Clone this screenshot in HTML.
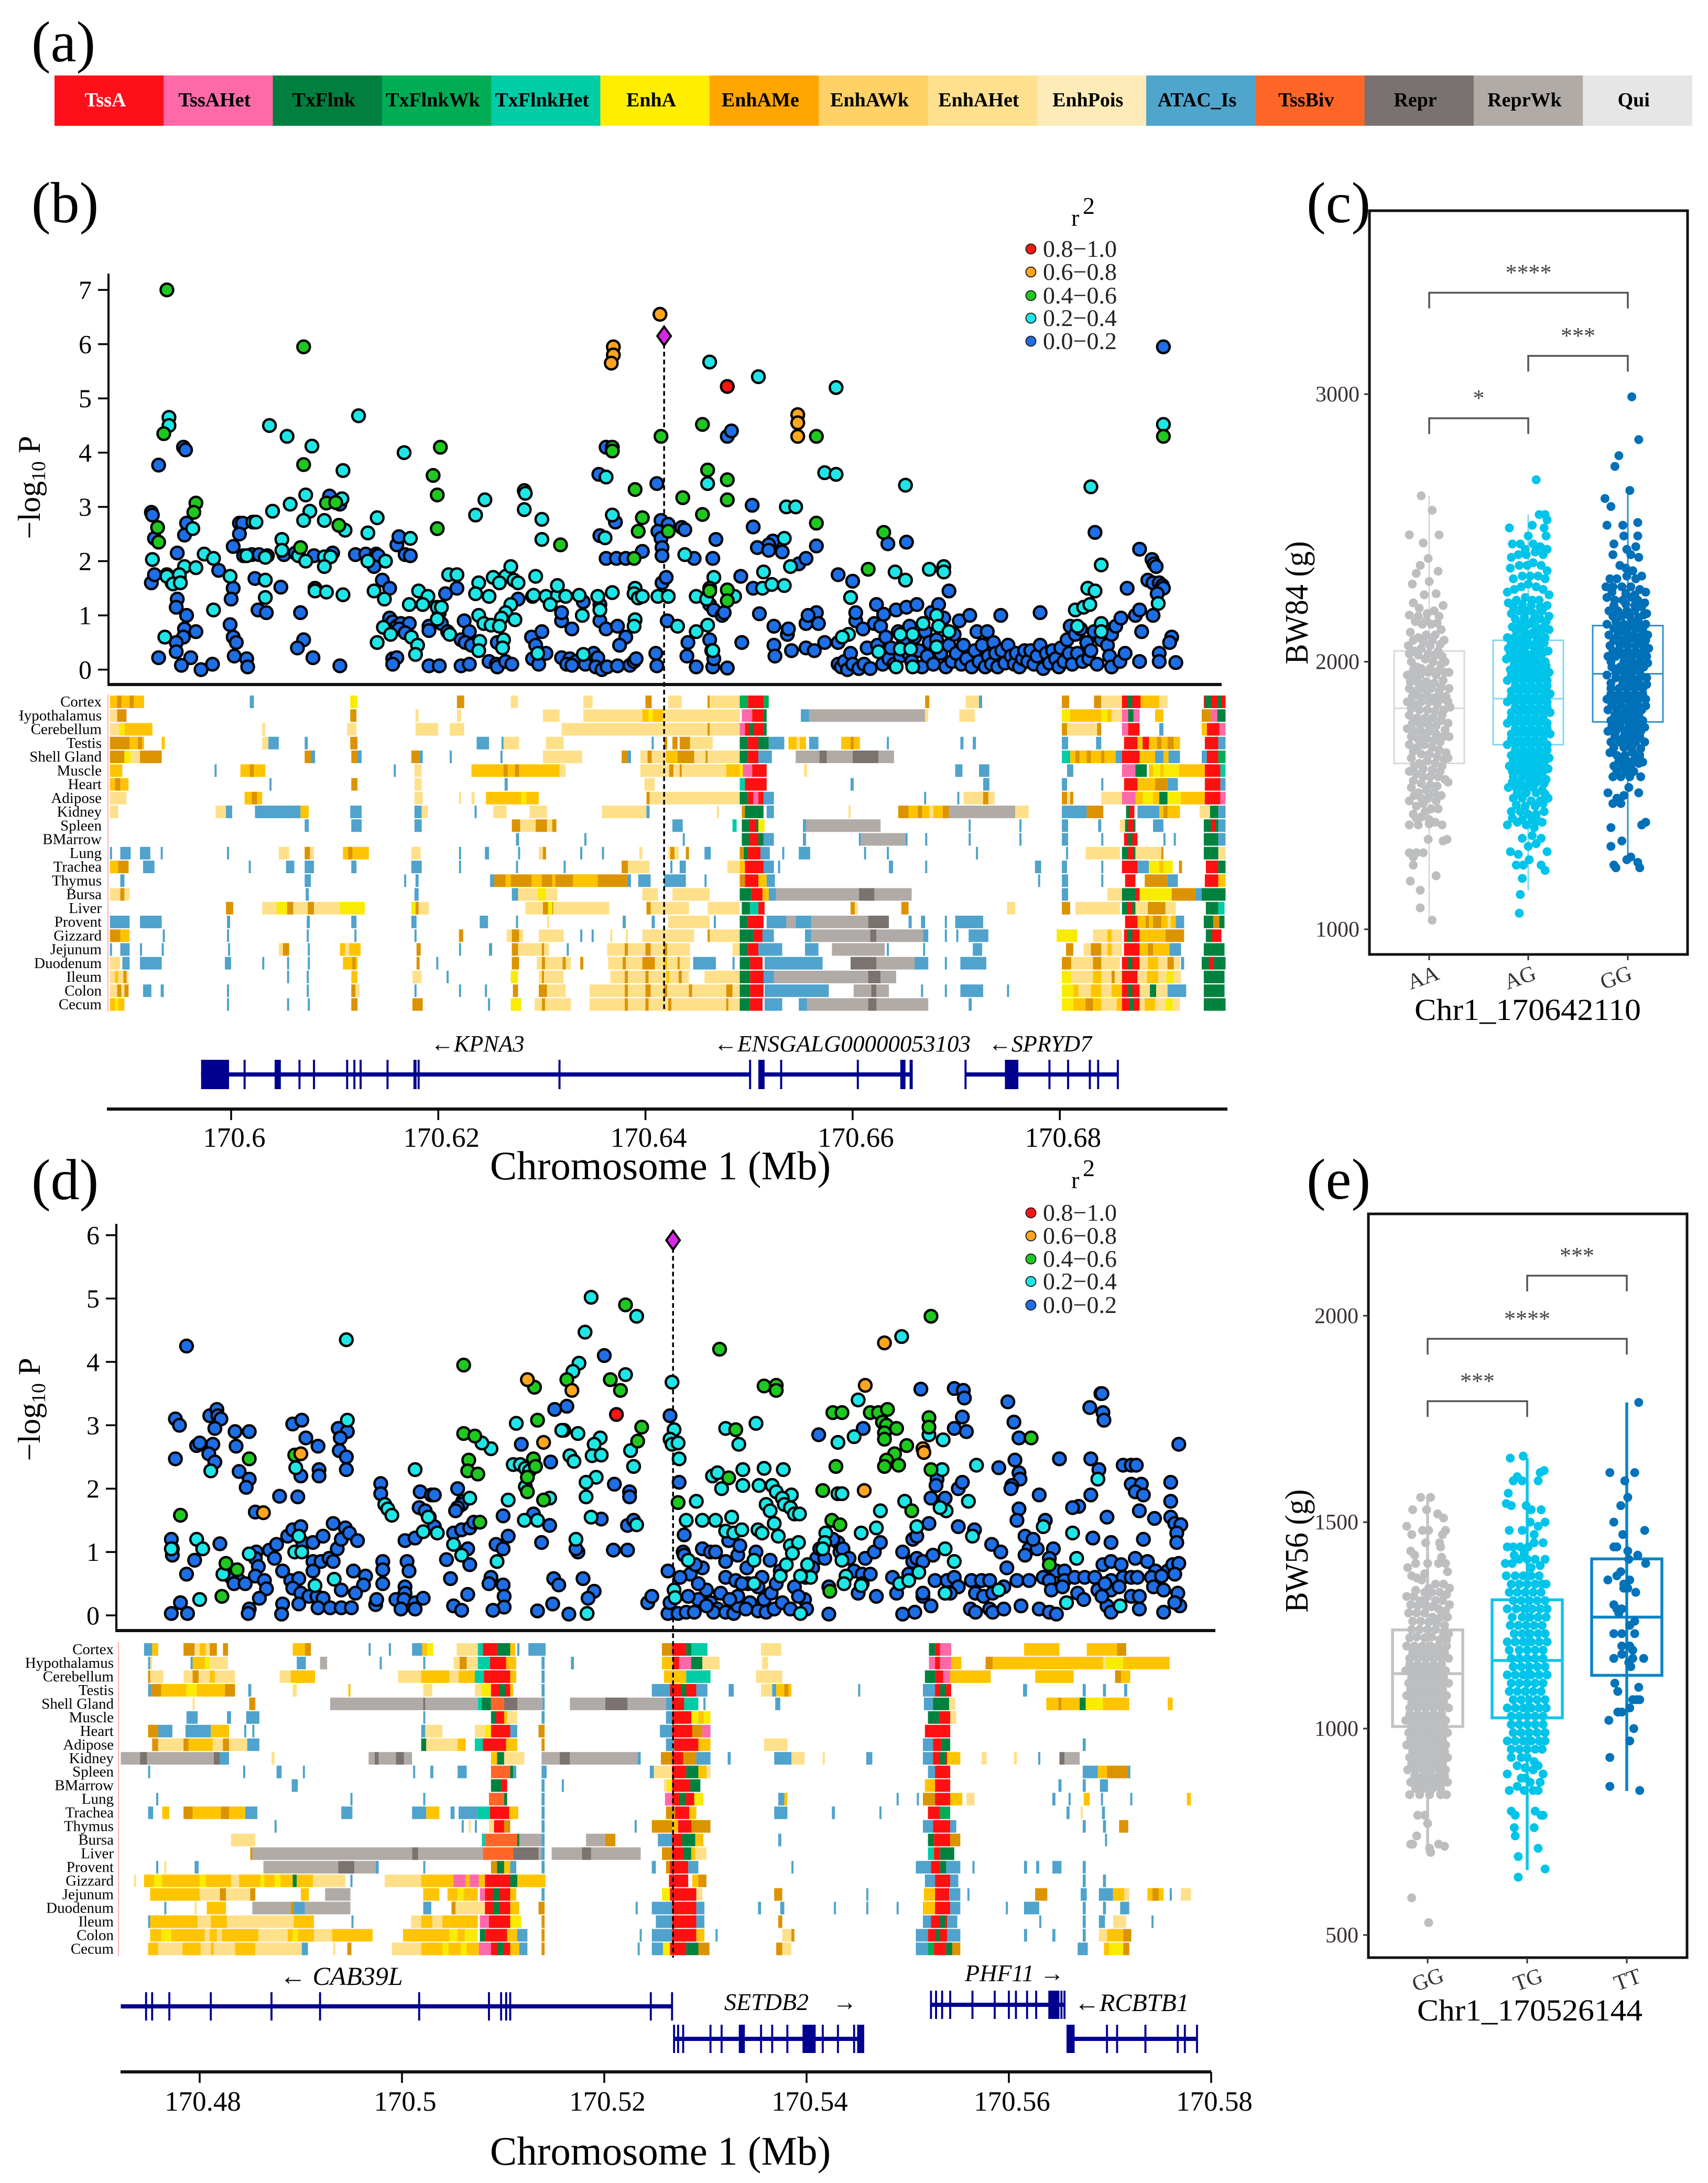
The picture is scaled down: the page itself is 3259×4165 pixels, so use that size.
<!DOCTYPE html>
<html lang="en">
<head>
<meta charset="utf-8">
<title>Chromatin state, LD and genotype figure</title>
<style>
html,body{margin:0;padding:0;background:#fff;}
svg{display:block;font-family:"Liberation Serif",serif;}
</style>
</head>
<body>
<svg id="chart" xmlns="http://www.w3.org/2000/svg" width="3259" height="4165" viewBox="0 0 3259 4165">
<rect width="3259" height="4165" fill="#fff"/>
<text x="60" y="117" font-size="110">(a)</text>
<text x="60" y="424" font-size="110">(b)</text>
<text x="2493" y="424" font-size="110">(c)</text>
<text x="60" y="2288" font-size="110">(d)</text>
<text x="2493" y="2287" font-size="110">(e)</text>

<g transform="translate(76,930) rotate(-90)"><text text-anchor="middle" font-size="60">−log<tspan font-size="38" dy="10">10</tspan><tspan dy="-10"> P</tspan></text></g>
<g transform="translate(76,2689) rotate(-90)"><text text-anchor="middle" font-size="60">−log<tspan font-size="38" dy="10">10</tspan><tspan dy="-10"> P</tspan></text></g>

<text x="1260" y="2250" text-anchor="middle" font-size="77">Chromosome 1 (Mb)</text>
<text x="1260" y="4130" text-anchor="middle" font-size="77">Chromosome 1 (Mb)</text>

<g font-size="46"><text x="2044" y="431">r</text><text x="2066" y="408">2</text></g>
<g font-size="46"><text x="2044" y="2267">r</text><text x="2066" y="2244">2</text></g>

<text x="822" y="2006" font-size="44" font-style="italic">←KPNA3</text>
<text x="1362" y="2006" font-size="44" font-style="italic" textLength="490" lengthAdjust="spacingAndGlyphs">←ENSGALG00000053103</text>
<text x="1886" y="2006" font-size="44" font-style="italic">←SPRYD7</text>
<text x="534" y="3787" font-size="50" font-style="italic">← CAB39L</text>
<text x="1382" y="3835" font-size="46" font-style="italic">SETDB2&#160;&#160;&#160;&#160;→</text>
<text x="1841" y="3780" font-size="46" font-style="italic">PHF11 →</text>
<text x="2050" y="3837" font-size="48" font-style="italic">←RCBTB1</text>

<text x="2915" y="1946" text-anchor="middle" font-size="58" textLength="432" lengthAdjust="spacingAndGlyphs">Chr1_170642110</text>
<text x="2919" y="3855" text-anchor="middle" font-size="58" textLength="430" lengthAdjust="spacingAndGlyphs">Chr1_170526144</text>
<text transform="translate(2495,1150) rotate(-90)" text-anchor="middle" font-size="62" textLength="235" lengthAdjust="spacingAndGlyphs">BW84 (g)</text>
<text transform="translate(2495,2959) rotate(-90)" text-anchor="middle" font-size="62" textLength="235" lengthAdjust="spacingAndGlyphs">BW56 (g)</text>
</svg>

<script>
/* ---------- panel (a) ---------- */
const stateNames=['TssA','TssAHet','TxFlnk','TxFlnkWk','TxFlnkHet','EnhA','EnhAMe','EnhAWk','EnhAHet','EnhPois','ATAC_Is','TssBiv','Repr','ReprWk','Qui'];
const stateFill=['#ff0f1a','#ff69a8','#007f3f','#00ad55','#00cca6','#ffee00','#ffa500','#ffd166','#ffe08f','#ffebb8','#4fa5cc','#ff6628','#7a7270','#b1aba7','#e6e6e6'];

/* ---------- track state codes ---------- */
const L=0,O=1,D=2,Y=3,B=4,R=5,P=6,G=7,W=8,T=9,S=10,K=11,F=12;
const trackFill=['#ffe08a','#ffc400','#dc9300','#f9ec00','#4fa3cc','#ff1010','#ff69a8','#00823f','#00ad55','#00cca6','#b1aba7','#7b7370','#ff6628'];
const tissues=['Cortex','Hypothalamus','Cerebellum','Testis','Shell Gland','Muscle','Heart','Adipose','Kidney','Spleen','BMarrow','Lung','Trachea','Thymus','Bursa','Liver','Provent','Gizzard','Jejunum','Duodenum','Ileum','Colon','Cecum'];

/* ---------- panel (b) tracks: start kb, end kb, state, relative to 170.6 Mb ---------- */
const bCortex=[-11.7,-8.4,O,-11,-10.6,D,-9.8,-9.4,D,1.8,2.2,B,11.5,12.2,Y,21.8,22.5,D,27,27.7,L,34,34.9,L,40,40.6,D,42.2,43.5,L,46,46.2,D,46.2,49.1,L,49.1,49.9,W,49.9,51.4,R,51.4,51.9,W,67,67.4,D,70.9,72.2,L,72.2,72.5,B,80.2,80.9,D,83.3,84,D,84,86,L,86,87.8,R,86.5,87,G,87.8,89.6,O,89.6,90.4,L,93.9,96,R,94,94.6,G,95.2,95.6,G];
const bHypothalamus=[-11.7,-11,L,-11,-10.1,D,11.5,12.1,D,17.8,18.1,L,21.8,22.2,L,30.1,31.7,L,34,39.7,L,39.7,41.7,O,40.3,40.7,Y,41.7,49.1,L,49.3,50.3,P,50.3,51.4,R,51.4,51.7,G,55,55.8,B,55.8,67,S,67,67.3,L,70.3,71.8,L,80.2,85,O,80.2,81,Y,84,84.6,Y,85,86,L,86,87.7,P,86.6,87.1,G,89.2,90,O,93.7,94.6,D,94.6,95.2,P,95.2,96,G];
const bCerebellum=[-11.7,-10.8,L,-10.8,-10.3,Y,-10.3,-7.6,O,3,3.3,L,11.2,12.1,L,17.8,20,L,21.1,22.5,L,31.9,49.1,L,46,46.2,D,49.1,49.6,P,49.6,51.4,R,50,50.4,G,51.4,51.7,G,80.2,80.7,D,80.7,83.6,L,83.6,84,D,86,87.7,P,86.6,87.7,R,89.6,90,B,93.7,94.2,O,94.2,95.4,R,95.4,96,P];
const bTestis=[-11.7,-8.4,O,-11.7,-9.8,D,-9,-8.6,D,-6.7,-6.4,O,3,3.6,L,3.6,4.6,B,7.1,7.4,B,11.5,12.2,D,23.7,24.9,B,26.1,26.3,B,26.3,27.8,L,30.4,32.1,L,40.6,40.8,B,41.8,42.1,D,42.6,43.1,D,43.3,44.3,D,44.3,46.5,L,49.1,49.9,G,49.9,50.9,R,50.9,51.9,G,51.9,53.4,B,53.8,55.5,O,54.6,54.9,L,55.8,56.7,B,58.9,60.7,O,59.8,60.1,D,63.3,63.5,B,70.4,70.7,B,71.6,71.9,B,80.2,80.8,B,83.5,84,B,86.2,87.5,R,87.5,91.6,O,88,88.6,R,89.4,89.8,D,90.4,91,D,94,95.3,R,95.3,96,B];
const bShellGland=[-11.7,-10.3,D,-10.3,-9.7,Y,-9.7,-8.8,L,-8.8,-6.7,D,7.1,8.1,D,7.7,8.1,B,11.6,12.2,D,12.2,12.6,B,17.4,18.2,D,18.2,18.5,B,21.1,21.3,B,26,26.2,B,30.1,33.9,L,37.7,38.3,D,38.3,38.6,B,39.5,42,L,40.2,40.6,D,42,43.1,O,43.1,44.7,D,44.7,45.8,L,45.8,46,D,46,49.1,L,49.1,49.9,G,49.9,50.9,R,50.9,52.2,B,54.5,57.1,S,56.8,57.5,K,57.5,60,S,60,62.5,K,62.5,64,S,80.2,81,T,81,85.4,O,81.5,81.9,D,82.6,83,D,84,84.3,D,85.4,86,B,86,87.7,R,87.7,89.2,O,89.2,91.6,B,90,90.5,O,93.7,95.3,B,94.2,95.3,R,95.3,96,W];
const bMuscle=[-11.7,-10.5,O,-1.6,-1.4,B,.9,3.3,O,1.8,2.2,D,15.7,15.9,B,17.7,18.4,L,23.2,31.7,O,26.3,26.7,D,27.4,27.8,D,31.7,32.3,L,39.5,42,L,42,43.5,L,42.3,42.7,D,43.3,43.6,D,43.5,47.8,L,47.8,49.1,O,49.1,49.4,Y,49.4,50.3,P,50.3,51.7,R,55.3,55.6,L,69.9,70.6,B,72.2,73.2,B,80.7,81.3,B,86,87.3,P,87.3,88.4,G,88.6,94,O,90,91.5,Y,89,89.7,Y,94,95.5,R,95.5,96,T];
const bHeart=[-11.7,-9.9,O,-11.2,-10.7,D,3.7,3.9,B,11.6,12.2,D,17.7,18.4,L,26.4,26.7,B,39.9,40.9,L,49.1,49.6,T,49.6,51.7,R,59.8,60.1,B,72.6,73.2,B,80.2,80.7,B,84,84.2,B,86.2,87.5,R,87.5,89.2,O,89.2,90.4,D,90.4,91.4,B,94,95.5,R,95.5,96,B];
const bAdipose=[-11.7,-10.1,L,1.3,3,O,2,2.5,D,17.7,18.5,L,22,22.2,L,23.2,23.5,L,24.6,29.7,O,28,28.5,Y,40.1,40.4,D,40.4,49.1,L,49.1,49.9,G,49.9,51.4,R,50.4,50.9,P,51.4,52.4,B,66.9,67.1,B,70.1,70.3,B,70.7,72.6,L,72.6,73.7,D,73.1,73.7,L,80.2,81.3,D,80.7,81,L,84,86,L,86,87.3,P,87.3,89.6,O,88,89,Y,89.6,90.4,G,90.4,91.7,Y,91.7,94,O,94,95.5,R,95.5,96,P];
const bKidney=[-11.7,-10.9,L,-1.5,-.5,L,-.5,.1,B,2.3,6.7,B,6.7,7.5,O,11.5,12.6,B,17.7,18.4,B,18.4,19,L,23.5,23.7,B,25.3,26.6,L,28.8,30.5,L,35.8,40.1,L,40.1,40.4,B,46.9,47.1,L,49.3,49.6,D,49.6,51.4,G,51.7,52.4,B,59.6,59.8,L,64.4,65.4,D,65.4,68.7,O,66.3,66.7,D,67.4,67.8,L,68.7,69.3,D,69.3,75.7,S,75.7,77,L,80.2,82.6,B,82.6,84.2,D,86.4,87.2,R,86.4,86.7,G,87.5,89.6,B,89.6,91.6,O,90,90.4,D,93.5,94.5,L,94.5,95.3,G,95.3,96,B];
const bSpleen=[7.1,7.5,B,11.6,12.6,B,17.7,18.4,B,27.1,27.9,D,27.9,29.4,L,29.4,30.5,D,30.5,31.4,L,31,31.4,D,42.6,43.6,B,48.4,48.8,T,49.3,50.9,G,50,50.7,R,50.9,51.5,Y,55.2,55.5,B,55.5,62.7,S,71.2,71.4,B,76.1,76.3,B,80.2,80.8,B,83.7,84,B,85.8,86.3,L,86.3,87.3,G,86.6,87.1,R,89,90,B,93.9,95.3,G,94.6,95,R,95.3,96,B];
const bBMarrow=[27.5,27.8,B,34.1,34.3,B,43.6,43.8,B,49.3,51.4,G,50,50.9,R,51.4,52.4,B,55.2,55.5,B,60.6,60.8,B,60.8,65.1,S,65.1,65.3,B,67,67.2,B,71.2,71.4,B,76.1,76.3,B,80.2,80.8,B,84,84.2,B,86.2,87.5,R,86.6,87,G,90,90.2,B,91,91.2,B,93.9,95.3,G,95.3,96,B];
const bLung=[-11.7,-11.5,B,-10.7,-9.7,B,-8.8,-7.8,B,-6.8,-6.6,B,-.4,-.2,B,4.6,5.6,L,7.1,8,D,7.6,8,L,10.8,13.3,O,11.3,11.7,D,17.4,18.3,L,22,22.2,B,24.5,24.9,B,27.7,27.9,B,29.7,30.4,L,30.1,30.4,D,33.7,33.9,B,35.8,36,B,39.4,39.7,L,42.2,43.2,L,42.4,42.8,D,43.9,44.2,D,45.7,46.3,B,49.1,49.9,D,49.5,49.9,G,49.9,51.1,R,51.1,52,B,53.2,53.4,B,54.8,55.9,B,61.1,61.3,B,63.3,63.5,B,71.9,72.1,B,80.6,80.8,B,82.5,85.8,L,86,87.3,G,86.6,87.1,R,87.3,89.8,L,89.8,90,D,93.9,95.3,G,95.3,96,L];
const bTrachea=[-11.7,-9.9,O,-10.9,-9.9,D,-8.5,-7.4,B,1.7,1.9,B,5.3,6.1,B,7.1,8,B,11.6,12.1,B,17.4,18.4,B,22,22.2,B,27.5,27.7,B,32.1,32.3,B,37.7,38.3,D,38.3,40.4,L,42.4,42.6,B,43.3,43.9,B,47.9,49.1,L,49.1,49.6,O,49.6,51.4,R,51.4,52.4,B,52.8,53,B,63.5,63.9,B,67,67.2,B,77.6,78.2,B,80.2,80.7,B,84,84.2,B,86,87.5,R,87.5,88.6,B,88.6,90.9,Y,89.6,90,O,91.5,91.8,D,94.1,95.3,R,95.3,96,G];
const bThymus=[-10.7,-10.3,B,7.1,7.7,B,16.7,16.9,B,17.8,18.1,B,25,25.4,B,25.4,38.3,D,26.5,27,O,29,30,O,33,35.4,O,31,31.3,O,38.3,38.6,B,39.3,40.5,B,41.8,43.9,B,45.7,45.9,B,49.1,49.6,D,49.6,50.9,R,50.9,51.7,O,51.7,52.5,B,77.9,78.1,B,80.2,80.8,B,84,84.2,B,86.3,87.3,R,88.2,90.4,D,90.4,91.4,B,94,95.3,R,95.3,96,O];
const bBursa=[-11.7,-10.7,L,-10.7,-10.3,D,-10.3,-9.8,L,7.2,7.5,B,17.7,18.1,B,27.1,27.7,B,27.7,29.6,L,29.6,30.4,Y,30.4,31.5,L,39.7,41.2,L,42.6,46.2,L,49.1,50.2,G,50.2,51.3,R,51.3,51.9,O,51.9,52.6,B,52.6,60.6,S,60.6,62.1,K,62.1,65.7,S,80.2,80.8,B,84.6,86,L,86,87.3,G,87.3,87.7,R,87.7,90.8,Y,90.8,93.1,D,93.1,93.7,B,93.7,96,G];
const bLiver=[-.5,.2,D,3,4.4,L,4.4,5.4,Y,5.4,6,D,6,7.4,L,7.4,8,D,8,10.5,L,10.5,12.9,Y,17.4,18.1,Y,17.8,18.1,D,18.1,19.1,L,28.4,30.1,L,30.1,31.1,D,30.6,31,Y,31.1,36.5,L,40.1,40.5,D,40.5,44.2,L,46,49.1,L,49.3,50.1,G,50.1,50.9,T,50.9,51.5,R,59.8,60.5,L,59.8,60.2,D,64.7,65.4,D,74.9,75.7,L,80.2,81,D,81.5,85.8,L,86,87.3,G,86.5,87,R,87.3,89.2,L,88.5,89.2,D,89.2,90.2,D,90.2,91.2,L,94.1,95.3,G,95.3,95.9,T];
const bProvent=[-11.7,-10.9,B,-10.9,-9.8,B,-8.8,-6.7,B,-.4,-.1,B,7.3,7.6,B,11.6,12.1,B,17.4,17.9,B,24,24.8,B,27.5,27.7,B,30.5,30.6,L,37.8,38.1,B,40.6,40.9,B,42.2,46.2,L,46.6,46.8,B,49.1,49.9,G,49.9,51.4,R,51.7,53.6,B,53.6,54.5,S,54.5,56,B,56,61.5,S,61.5,63.5,K,65.4,65.7,B,66.6,67,B,68.9,69.1,B,69.9,72.6,B,86.3,87.5,R,87.5,91.2,O,88.3,88.6,D,89,89.8,D,90.4,90.7,L,91.2,92,B,93.9,95.9,G,94.8,95.4,D];
const bGizzard=[-11.7,-10.7,D,-10.7,-9.8,O,-6.6,-6.4,B,-.4,-.2,B,7.3,7.5,B,11.9,12.1,B,17.7,17.9,B,22,22.4,D,26.6,28.2,L,27.1,27.8,D,29.7,32.1,L,33.7,33.9,B,34.8,35,B,36.6,36.8,L,38.1,38.3,L,39.7,44.7,L,46,49.1,L,46,46.2,D,49.1,50.4,G,50.4,51.3,R,51.3,52.4,B,55.4,56,B,56,61.7,S,61.7,62.3,K,62.3,66.8,S,66.8,67.3,B,68.9,69.1,B,70,70.2,B,71.2,73.1,B,79.7,81.7,Y,83.2,84,L,84,86,L,84.6,85,O,86.2,87.7,R,86.5,87,G,87.7,90.2,O,90.2,92,D,94.1,95.6,R,94.1,94.7,G];
const bJejunum=[-11.7,-11.5,B,-10.7,-9.8,B,-8.8,-8.6,B,-6.7,-6.5,B,-.3,-.1,B,4.6,5.6,L,5,5.6,D,7.4,7.6,B,10.5,12.5,O,11,11.4,L,17.9,18.3,D,22,22.2,B,24.9,25.2,B,27.1,27.7,D,27.7,30.7,L,30,30.2,D,32.4,32.6,B,36.3,44.3,L,38,38.3,D,40,40.5,D,41.8,42.1,D,48.4,49.1,L,49.1,49.9,G,49.9,50.9,R,50.9,53.2,B,55.4,56.7,B,58,63.1,S,63.3,63.5,B,66.8,67,B,71.6,72.5,B,80.6,81.3,D,82.3,86,L,83,84,D,84.6,85,O,86.2,87.7,R,87.7,90.6,O,88.5,89,D,90.6,91.7,B,93.9,95.9,G];
const bDuodenum=[-11.7,-10.7,L,-10.5,-9.8,B,-8.8,-6.7,B,-.6,0,B,3,3.2,B,5.4,5.6,B,7.4,7.6,B,10.8,12.2,O,11.7,12,D,17.9,18.2,D,19.8,20,B,27.1,27.8,D,29.5,32.8,L,30,30.3,D,32,32.3,D,33.7,34,D,36.4,44.3,L,37.8,38.1,D,39.7,40.9,D,41.8,42.1,O,43.1,43.3,D,44.6,46.8,B,48.4,48.6,B,49.1,50.1,G,50.1,51.3,R,51.5,57.1,B,59.8,62.3,K,62.3,66,S,66,67.3,B,68.9,69.1,B,70.4,72.9,B,80.2,81.1,D,81.1,85.8,L,83.2,84,D,86,87.7,R,86.6,87,G,87.7,91.6,L,88.5,89.5,O,90.4,91,D,91.7,92,B,93.7,96,G,94.4,94.8,R];
const bIleum=[-11.7,-9.9,L,-11.2,-10.9,O,-10.4,-10.1,D,5.4,5.6,B,7.3,7.5,B,11.6,12.2,O,17.5,18.4,L,20.8,21,B,27,27.7,Y,29.7,32.1,L,30,30.2,D,36.6,44.2,L,38,38.3,D,40,40.3,D,42,42.3,O,43.2,43.5,D,45.7,49.1,L,49.1,50.1,G,50.1,51.4,R,51.4,52.4,B,52.4,61.5,S,61.5,62.7,K,62.7,64.2,S,80.2,81.1,Y,81.1,86,L,83.2,84,O,85,85.3,D,86,87.5,R,87.5,91.7,L,88.4,89.5,O,90.3,91,Y,93.9,95.9,G];
const bColon=[-11.7,-9.9,L,-11,-10.6,D,-10.3,-9.9,D,-8.5,-7.7,B,-6.8,-6.5,B,-.4,-.2,B,7.3,7.5,B,11.6,12.4,D,12,12.4,L,17.7,17.9,B,22,22.2,B,24.5,24.7,B,27.2,27.7,D,29.7,30.5,D,30.5,32.3,L,34.6,49.1,L,38,38.3,D,40,40.5,D,41.8,42.1,D,44.2,44.5,D,47.8,48.4,D,49.1,50.1,G,50.1,51.4,R,51.5,57.7,B,60.1,61.8,S,61.8,62.3,K,62.3,63.5,S,66.6,66.8,B,68.9,69.1,B,70.4,72.6,B,74.9,75.1,B,80.2,81.3,Y,81.3,86,O,81.8,83,L,84,85,L,86,87.7,R,86.6,87,G,87.7,90.4,L,88.7,89.3,G,90.4,92.2,B,93.9,95.9,G];
const bCecum=[-11.7,-10.3,O,-11.2,-10.9,Y,-.4,-.2,B,5.4,5.6,B,7.4,7.6,B,11.6,12.2,D,17.5,18.5,D,24.8,25,B,27,28,Y,29.3,32.8,L,30,30.3,D,34.6,49.1,L,38,38.3,D,40,40.3,D,42.2,42.5,D,47.8,48,D,49.1,50.1,G,50.1,51.3,R,51.5,53.2,B,54.8,55.6,B,55.6,67.3,S,61.5,62.3,K,71.2,71.5,B,80.2,81.3,Y,81.3,86,O,82.5,83.2,D,84,85.5,L,86,87.7,R,86.7,87.1,G,87.7,91.6,L,88.2,89.2,O,90.2,90.9,Y,93.9,96,G];
const tracksB=[bCortex,bHypothalamus,bCerebellum,bTestis,bShellGland,bMuscle,bHeart,bAdipose,bKidney,bSpleen,bBMarrow,bLung,bTrachea,bThymus,bBursa,bLiver,bProvent,bGizzard,bJejunum,bDuodenum,bIleum,bColon,bCecum];

/* ---------- panel (d) tracks: relative to 170.5 Mb ---------- */
const dCortex=[-25.5,-24.7,B,-24.7,-24.1,O,-21.6,-20.5,D,-20.5,-19,L,-20,-19.4,O,-19,-18.3,D,-17.7,-17.2,D,-10.8,-9.6,O,-9.6,-9,D,-3.3,-3.1,B,-1.3,-1.1,B,1,2,B,2,2.5,O,2.5,3.1,Y,5.4,7.5,L,7.5,8,T,8,9.4,R,9.4,10.7,G,10.7,11.2,O,11.4,11.6,B,12.5,14.2,B,25.7,26.7,D,26.7,28.1,R,28.1,28.6,G,28.6,30.2,T,35.5,37.5,L,52.1,52.7,G,52.7,53.2,R,53.2,54.3,P,61.5,65,O,67.7,70.7,O,70.7,71.6,D];
const dHypothalamus=[-25.1,-24.9,B,-24.9,-24.7,L,-20.9,-20.7,B,-20.7,-19.5,O,-19.5,-19,Y,-19,-17.2,L,-10.4,-9.5,B,-8.1,-7.4,S,-2.2,-2,B,2.1,2.3,B,5.1,5.7,L,5.7,6.4,D,6.4,7.5,L,7.5,8.7,T,8.7,10.3,R,10.3,11.3,O,13.8,14.1,B,16.7,17,B,25.7,26.8,O,26.8,27.4,R,27.4,28.6,P,28.6,29.7,G,29.7,31.4,L,35.6,36.2,L,52.1,52.7,P,52.7,53.2,R,53.2,54.3,P,54.3,55.3,O,57.7,58.4,D,58.4,75.9,O,69.3,71.3,Y,69.3,69.6,L];
const dCerebellum=[-25.1,-24.9,D,-24.9,-23.6,L,-21.6,-20.7,L,-20.7,-20.1,D,-20.1,-19,L,-19,-18.5,O,-18.5,-16.5,L,-12.1,-11,L,-11,-8.6,O,-.4,1.9,L,1.9,4.7,O,4.7,5.6,L,5.6,7.2,O,7.2,8.1,T,8.1,10.7,R,10.7,11.3,O,13.8,14.1,B,25.9,28.1,O,28.1,30.5,T,35,37.6,L,51.7,52.7,G,52.7,53.5,R,53.5,54.2,P,54.2,58.2,O,62.6,66.4,O,70.5,71.1,D,71.1,72,O];
const dTestis=[-25.1,-24.8,B,-24.8,-23.8,D,-23.8,-21.3,O,-21.3,-20.3,Y,-20.3,-17.5,O,-17.5,-16.5,D,-15.2,-14.9,B,-10.8,-10.4,L,-5.3,-5.1,O,2.1,3,L,7.2,7.9,L,7.9,8.8,Y,8.8,10.7,R,9.6,10.2,G,10.7,11,O,13.8,14.1,B,24.7,26.5,B,26.5,29.1,R,27.6,28.1,G,29.1,30.2,B,32.3,32.8,B,35.5,36.6,L,36.6,37,B,37,38.5,O,37.8,38.2,D,45.1,45.3,B,51.5,52.7,B,52.7,54.3,R,53.2,53.8,G,61.4,61.8,B,67.3,67.6,B,69.3,69.6,B,71.4,71.7,B];
const dShellGland=[-20.7,-20.5,L,-15.1,-14.5,D,-7.1,2.1,S,2.1,2.3,K,2.3,7.5,S,7.5,7.9,T,7.9,8.8,G,8.8,10.1,F,10.1,11.4,K,11.4,13.9,S,13.9,14.1,B,16.6,20.1,S,20.1,22.3,K,22.3,26.1,S,26.1,26.7,B,26.7,27.9,R,27.9,29.3,T,29.8,30,B,36.9,37.4,B,51.6,52.5,B,52.5,54.1,G,54.1,54.7,L,63.7,64.9,O,64.9,65.2,D,65.2,67,O,67,67.6,G,67.6,69.3,Y,69.3,71.9,O,75.7,76.2,O];
const dMuscle=[-21.3,-20.2,B,-17.3,-16.9,B,-15.4,-14.1,B,2.1,2.3,B,8.8,9.3,G,9.3,10.1,R,10.1,10.4,O,10.4,11.4,L,13.8,14.1,B,26.1,26.7,B,26.7,28.6,R,28.6,30.5,Y,29.3,29.8,O,52,53.1,G,53.1,54.2,R,54.2,54.8,L];
const dHeart=[-25.1,-24.1,D,-24.1,-23.7,B,-23.7,-22.7,B,-21.4,-18.9,B,-18.9,-17.1,O,-15.6,-15.4,B,-14.8,-14.6,B,1.9,2.3,B,2.3,4,L,7.2,8.2,L,8.2,8.8,Y,8.8,10.7,R,10.7,11.4,B,13.5,14.1,D,25.5,26.7,B,26.7,28.7,R,28.7,29.7,D,29.7,30.5,P,51.7,54.2,R];
const dAdipose=[-24.7,-24.1,D,-24.1,-21.6,L,-21.6,-21.1,D,-21.1,-18.7,O,-18.7,-17.1,L,-17.7,-17.1,D,-17.1,-15.3,L,-15.3,-14.1,B,1.9,2.4,G,2.4,5.5,L,5.5,6.3,O,7.2,8,T,8,10.3,R,10.3,11.4,O,13.8,14.1,D,26.1,26.9,B,26.9,29.3,R,29.3,30.5,O,35.8,38.1,L,51.5,52.5,B,52.5,53.3,R,53.3,54.2,G,67.3,67.6,B];
const dKidney=[-27.8,-25.9,S,-25.9,-25.2,K,-25.2,-18.6,S,-18.6,-18,K,-18,-17.1,B,-12.9,-12.6,L,-3.3,-2.7,S,-2.7,-2.3,K,-2.3,-.6,S,-.6,.2,K,.2,1,S,8.8,9.4,O,9.4,10.1,G,10.1,12.1,L,13.8,15.6,S,15.6,16.6,K,16.6,23.3,S,23.3,23.6,B,25.6,26.7,D,26.7,27.8,R,27.8,29.1,D,29.1,30.5,B,32.2,32.5,B,36.8,38.5,B,38.5,39.8,L,41.6,41.8,L,45.9,46.5,B,51.5,52.5,B,52.5,53.9,R,53.2,53.8,G,53.9,55.2,O,57.3,57.8,L,60.5,60.8,L,62.9,63.1,B,65,65.5,K,65.5,67,S];
const dSpleen=[-25.1,-24.9,B,-15.7,-15.5,B,-12.4,-11.9,B,-9.8,-9.6,B,1.1,1.3,B,2.8,3.1,B,5.5,6.4,B,8.8,10.7,F,10.7,11,G,11,11.3,B,13.8,14.3,B,24.5,24.9,B,24.9,26.7,L,26.7,28.1,R,28.1,30.1,G,29.3,30.1,O,30.1,30.5,L,52,52.7,B,52.7,54.2,R,67.3,68.8,B,68.8,69.7,O,69.7,71.8,D,71.8,72,B];
const dBMarrow=[-10.9,-10.3,B,8.8,9.8,G,9.8,10.4,R,13.8,14.1,B,15.8,16,B,25.9,26.2,L,26.2,26.7,Y,26.7,28.5,R,28.5,29.5,G,51.7,52.7,O,52.7,54.2,R,64.9,65.2,B,67.3,67.6,B,69,69.8,B];
const dLung=[-24.3,-24.1,B,-5.1,-4.9,B,2.1,2.3,B,8.6,10.1,F,10.1,10.4,G,13.8,14.1,B,26,26.7,P,26.7,28.9,R,27.4,28,G,28.9,29.8,Y,37.2,37.8,B,37.8,38.1,O,48.9,49.1,B,50.9,51.1,B,51.5,52.7,D,52.7,54.2,R,54.2,55.4,O,55.8,56.6,L,64.3,64.6,B,65.9,66.1,B,67.4,68,O,69.1,69.3,B,72,72.2,B,77.6,78,O];
const dTrachea=[-25.1,-24.6,B,-23.7,-23,O,-21.6,-20.7,D,-20.7,-17.9,O,-17.9,-17.1,D,-17.1,-15.5,O,-15.5,-14.3,B,-6,-4.9,B,1,2.4,B,2.4,3.7,O,4.8,5.2,B,5.6,7.5,B,7.5,8.7,T,8.7,10.6,R,10.6,11.5,O,13.8,14.1,B,26.1,27,D,27,28.4,R,28.4,29.1,O,36.8,38.1,B,42.5,42.8,B,47.2,47.4,B,52,53.2,R,53.2,54.2,W,65.7,66,B,67.1,67.3,L,69.2,69.5,B];
const dThymus=[-12.6,-12.4,B,5.9,6.1,B,6.6,6.8,L,7.2,7.4,B,8.6,9.1,L,9.1,10.1,R,10.1,10.7,D,13.8,14.1,B,23,23.2,B,24.7,26.7,D,26.7,27.3,O,27.3,28.6,R,28.6,30.5,D,51.5,52.5,B,52.5,54.2,R,54.2,54.8,B,67.3,67.6,B,69.3,69.6,B,70.9,71.8,D];
const dBursa=[-16.9,-14.5,L,7.9,8.2,T,8.2,11.4,F,11.4,11.6,G,11.6,13.8,S,13.8,14.1,B,18.2,20.1,S,20.1,21.1,D,25.3,26.7,B,26.7,27.7,R,27.7,29,G,29,29.8,O,37.2,37.5,B,52,52.6,G,52.6,54.2,R,54.2,55.2,D,69.5,69.7,B];
const dLiver=[-15,-14.7,D,-14.8,1,S,1,1.6,K,1.6,8,S,8,11,F,11,13.5,K,13.5,13.8,S,13.8,14.1,B,14.8,17.8,S,17.8,18.7,K,18.7,23.6,S,25.7,26.7,D,26.7,27.8,R,27.8,28.6,G,28.6,29,O,29,30.1,L,52,52.6,T,52.6,53.2,R,53.2,54.6,G];
const dProvent=[-24.3,-24.1,B,-23.5,-23.3,L,-20.5,-20.1,B,-13.7,-6.3,S,-6.3,-4.7,K,-4.7,-2.6,S,-2.6,-2.3,B,2.1,2.3,B,8.8,9.4,D,9.4,10.1,G,10.1,10.7,O,10.7,11.3,B,13.8,14.1,B,24.7,25.1,B,26.1,26.5,D,26.5,28.3,R,28.3,29.3,B,38.5,38.7,B,50.8,52.3,B,52.3,53.2,R,53.2,53.8,G,53.8,55.2,B,56.4,56.6,B,61.5,61.8,B,62.7,63,B,64.3,65.2,B,67.3,67.6,B];
const dGizzard=[-26.5,-26.3,L,-25.5,-13.6,O,-24.5,-23.7,Y,-20,-19.4,Y,-16.9,-16.1,L,-14,-13.4,Y,-13.6,-10.8,O,-12.6,-12,Y,-10.8,-10.4,G,-10.4,-8.8,O,-8.8,-5.6,L,-5.1,-4.9,B,-1.7,1.9,L,1.9,5.1,O,5.1,6.3,P,6.3,6.7,O,6.7,7.6,P,7.6,8.2,O,8.2,10.7,R,10.7,11.4,G,11.4,14.2,O,26.4,28.3,R,28.7,29.3,O,29.3,30.1,D,51.7,52.7,B,52.7,54.2,R,54.2,55,B,67.3,67.6,B,69.3,69.6,B];
const dJejunum=[-24.9,-20,O,-20,-18,L,-18,-17.4,D,-17.4,-15,L,-15,-14.5,D,-10,-9.2,O,-7.6,-5.1,S,2.1,3.7,O,4.5,7.5,O,5.5,6.1,Y,7.7,8.2,P,8.2,10.7,R,9,9.6,G,10.7,11.3,O,13.8,14.1,B,25.7,26.5,Y,26.5,29.1,R,29.1,29.7,L,36.8,37.6,D,45.9,46.1,B,51.6,52.7,O,52.7,54.1,R,54.1,55.2,B,55.9,56.1,B,62.6,63.8,D,67.1,67.7,B,68.9,70.3,B,70.3,71.9,O,71.4,71.9,L,73.7,75.3,O,74.2,74.8,D,75.9,76.1,B,77,78,L];
const dDuodenum=[-23.5,-23.3,B,-20.5,-20.3,L,-19.3,-17.4,O,-14.8,-11,S,-11,-10.7,D,-10.7,-9.6,B,-9.6,-5.1,S,2.1,2.9,B,4.9,5.3,D,5.3,8.2,L,8.2,10.7,R,9,9.6,G,10.7,11.6,O,13.5,14.1,D,23.1,23.3,B,24.7,26.7,B,26.7,29.1,R,29.1,29.9,B,35.2,35.5,B,37.4,37.8,B,42.7,42.9,B,45.9,46.1,B,48.9,49.1,B,51.5,52.7,O,52.7,54.2,R,54.2,55.2,B,59.7,59.9,B,61.5,63,B,67.3,67.6,B,69.3,69.6,B,71,71.9,B];
const dIleum=[-25.1,-24.9,B,-24.9,-20.2,O,-20.2,-18.9,L,-18.9,-17.3,O,-17.3,-10.7,L,-10.7,-8.7,O,-5,-4.8,B,.9,1.9,L,1.9,4.7,O,3,4,L,4.7,7.5,O,7.7,8.6,P,8.6,10.7,R,10.7,11.8,Y,13.8,14.1,D,25.1,26.7,B,26.7,29.1,R,29.1,29.9,B,37.2,37.6,D,51.5,52.3,B,52.3,53.9,R,53.2,53.7,G,53.9,54.9,B,63,63.2,B,67.3,67.6,B,68.9,69.5,B,70.3,71.6,L,74.1,74.3,B];
const dColon=[-24.9,-14.2,O,-23.8,-22.8,Y,-19.5,-19,L,-18.3,-17.8,L,-14.2,-11.3,L,-11.3,-8.7,O,-10.8,-10.3,Y,-8.7,-6.9,L,-6.9,-2.9,O,.1,4.7,O,4.7,7.5,Y,5.5,6.2,O,7.7,8.2,G,8.2,10.4,R,10.4,11.4,O,11.4,12.4,B,13.8,14.1,D,23.5,23.7,B,24.7,26.7,B,26.7,29.1,R,29.1,29.9,O,31,31.2,B,37.6,38.5,L,38.5,38.8,D,50.8,52,B,52,53.9,R,52.8,53.2,G,53.9,55.2,B,61.5,61.8,B,64.3,64.6,B,67.3,67.6,B,68.9,69.7,L,69.7,71.3,O,71.3,72.1,D];
const dCecum=[-25.1,-24.1,O,-24.1,-21.7,L,-21.7,-19.9,O,-19.9,-18.9,L,-18.9,-18.6,O,-18.6,-16.5,L,-16.5,-14.5,O,-14.5,-9.9,L,-9.9,-9.3,B,-6.8,-6.6,L,-5.4,-5,D,-1,1.9,L,1.9,7.6,O,4,4.6,Y,5.8,6.4,Y,7.6,8.8,P,8.8,10.7,R,9.4,10,G,10.7,11.6,O,11.6,12.4,B,13.8,14.1,D,23.3,23.5,B,24.7,25.8,B,25.8,26.5,Y,26.5,28.1,R,28.1,29.3,G,29.3,30.4,D,37,37.6,D,37.6,38.5,L,50.8,52,B,52,52.6,W,52.6,53.8,R,53.8,54.4,G,54.4,55.2,D,66.8,67.8,B,69.4,69.9,O,69.9,71.3,Y,71.3,71.9,D];
const tracksD=[dCortex,dHypothalamus,dCerebellum,dTestis,dShellGland,dMuscle,dHeart,dAdipose,dKidney,dSpleen,dBMarrow,dLung,dTrachea,dThymus,dBursa,dLiver,dProvent,dGizzard,dJejunum,dDuodenum,dIleum,dColon,dCecum];

/* ---------- panel (b) LD points: kb from 170.6 Mb, -log10 P ---------- */
const bR2Low=[-7.7,1.6,-7.4,1.75,-6.2,1.75,-5.7,1.6,-5,1.7,-5.2,1.3,-5.3,1.15,-4.3,1,-4.5,.75,-3.4,.7,-4.6,.6,-5.3,.5,-5.3,.33,-7,.22,-3.9,.22,-4.8,.08,-2.9,0,-1.8,.1,-1.2,1.83,.2,1.5,0,1.3,-.1,.83,.2,.6,.5,.5,.3,.25,1.5,.2,1.6,.05,2.3,1.68,2.6,1.1,3.4,1.05,4.8,1.52,6.7,1.05,7,.55,6.4,.4,7.9,.22,8.1,1.5,10.5,.07,
-7.7,2.9,-7.6,2.85,-7.4,2.42,-4.6,4.1,-4.4,4.05,-7,3.77,-4.3,2.7,-4.5,2.48,.2,2.27,.8,2.7,1.1,2.7,.8,2.5,9.5,3.2,10.5,3.05,-5.2,2.15,1.2,2.1,2,2.12,2.7,2.12,3.5,2.1,5.1,2.12,6.2,2.15,8,2.1,9.8,2.15,12,2.12,13,2.13,14,2.13,14.2,2.1,13.8,1.9,14.6,1.65,15.3,1.5,16,2.3,16.2,2.45,16.8,2.12,17.3,2.1,
15.3,.95,15.6,.88,16,.8,16.4,.85,17.2,.85,16.2,.75,16.8,.68,15.6,.2,16,.22,15.6,.1,19.1,.07,20.1,.07,19.1,.8,19.1,.72,20.1,1.05,20.3,.85,20.9,.7,20.7,1.4,21.8,1.5,22.2,.55,22.5,.9,23,.7,22.6,.5,23.2,.45,22.2,.07,23,.1,24.9,.15,25.6,.1,25.7,.05,26.5,.15,27.1,.1,25.7,.5,27.7,1.3,29.1,1.35,29,.6,29.4,.45,30,.7,29.1,.2,29.7,.1,30.4,.3,31.9,.9,31.9,1.05,32.9,.75,34,1.25,35.6,1.2,35.6,.9,36.2,.75,37.3,.8,38.1,.6,37.5,.45,31.9,.22,32.7,.2,33.3,.15,32.4,.1,32.9,.08,34.6,.25,35,.3,35.4,.22,34.2,.1,35.2,.05,35.8,0,36.3,.05,37.3,.07,38.5,.08,38.9,.15,39.1,.2,
35.5,3.6,35.6,2.47,37.1,2.72,36.2,4.1,41.1,3.43,41.5,2.75,42.2,2.68,43.5,2.62,43.8,2.58,41.2,2.55,41.5,2.42,46.8,2.4,39.7,2.18,41.6,2.25,41.6,2.1,44.7,2.05,46.5,2.05,36.2,2.05,37.2,2.05,38.1,2.05,50.4,2.63,50.3,3.03,47.9,4.3,48.3,4.4,90,5.95,
41,.3,41.1,.07,41.6,1.6,42,1.7,42.1,.9,44,.25,44.1,.5,44.9,.05,46.5,.05,46.2,.55,46.4,.35,46.6,.2,47.9,.03,46.2,1.2,46.6,1.1,47.4,1,47.6,1.05,49.3,.5,49.2,1.72,51,1.03,50.4,1.5,52.4,.8,52.4,.45,52.5,.25,53.7,.65,53.8,.75,54.1,.35,55.5,.85,56.5,1.05,55.7,1,56.7,.85,55.5,.4,56.3,.35,57.3,.5,58.6,.5,58.6,1.75,60,1.63,52.3,2.37,51.9,2.3,50.8,2.25,51.9,2.2,53.2,2.17,56.5,2.28,54.8,1.95,55.5,2.05,
58.6,.1,58.9,.05,59.2,.15,59.5,0,59.8,.3,60,.1,60.3,.9,60.3,1.05,60.6,.02,61,.75,61.1,.1,61.4,.4,61.7,.02,62.1,.85,62.3,1.2,62.4,.45,62.7,.8,62.9,.1,63,1.02,63.2,.6,63.4,2.32,63.5,.2,63.7,.4,64,.1,64.2,1.1,64.4,.7,64.6,.25,64.9,.5,65.2,1.15,65.2,2.35,65.4,.3,65.5,.8,65.7,.15,66,.6,66.2,1.2,66.4,.35,66.7,.05,67,.7,67.2,.25,67.4,.5,67.6,1.05,67.8,.1,68.1,.55,68.3,1.2,68.5,.3,68.8,.95,69,.05,69.3,.45,69.3,1.45,69.6,.15,69.8,.65,70,.3,70.3,.9,70.5,.1,70.7,.45,71,.2,71.3,1,71.5,.05,71.8,.35,72,.7,72.2,.15,72.5,.45,72.8,.05,73,.7,73.1,.25,73.4,.1,73.6,.5,73.8,.3,74,.05,74.3,1,74.4,.35,74.7,.12,75,.45,75.3,.25,75.6,.1,75.8,.3,76.1,.05,76.4,.2,76.6,.35,76.9,.15,77.2,.35,77.5,.1,77.8,.25,78.1,1.05,78.1,.45,78.4,.02,78.7,.3,79,.12,79.3,.35,79.6,.2,79.9,.05,80.1,.4,80.4,.15,80.7,.55,80.9,.3,81,.8,81.2,.1,81.5,.65,81.7,.3,82,.75,82.2,.15,82.6,.5,82.8,.2,83,.35,83.3,.7,83.6,.1,84,.55,84.4,.75,84.6,.45,84.8,.25,85,.65,85,.05,85.4,.8,
83.4,2.53,87.7,2.22,88.9,2.03,89.1,1.95,89.3,1.9,88.5,1.65,89,1.6,89.6,1.6,89.9,1.55,90,1.5,89.4,1.4,86.5,1.5,87.3,1,87.7,1.1,87.9,.7,87.7,.15,89,1,89.6,.3,89.6,.15,90.8,.6,90.6,.5,91.2,.13,85.8,.15,85.9,.95,86.3,.3];
const bR2Mid=[-6,4.65,-6,4.5,3.7,4.5,5.4,4.3,12.3,4.68,7.8,4.12,16.7,4,10.8,3.67,46,3.43,57.3,3.63,58.4,3.6,46.2,5.67,50.9,5.4,58.4,5.2,90,4.52,36.2,3.55,28.3,3.3,28.4,3.25,65.1,3.4,83,3.37,7.2,3.22,24.5,3.13,5.7,3.05,10.7,3.15,53.6,3,54.5,3,28.3,2.95,4,2.92,7.6,2.92,36.8,2.85,23.6,2.85,30,2.77,14.1,2.8,7,2.75,9,2.75,2.1,2.72,2.4,2.72,-3.7,2.6,11,2.57,13.2,2.52,36.1,2.43,17.3,2.42,4.9,2.4,53.4,2.42,30,2.4,4.9,2.2,1.5,2.1,3.3,2.07,6.5,2.1,7.2,2,9,2.08,9.6,2.08,9,1.9,-7.6,2.03,-2.6,2.13,-1.7,2.05,-4.5,1.9,-3.4,1.88,-5,1.75,-6.2,1.72,-5.6,1.58,-4.9,1.6,-.1,1.72,3.3,1.65,3.3,1.33,8.1,1.45,9.2,1.43,10.8,1.38,13.8,1.45,14.8,1.3,13.2,2,14.9,2,-1.7,1.1,-6.4,.6,
18.1,1.45,19,1.35,17.2,1.2,18.5,1.2,19.9,1.15,20.3,1.15,19.9,.93,21,1.75,21.8,1.75,23.9,1.6,23.6,1.4,24.9,1.35,25.3,1.7,26.5,1.72,25.9,1.6,27,1.9,27.3,1.65,27.7,1.6,29.4,1.72,27,1.2,26.5,1.05,23.9,1,26.1,.95,27.4,.92,24.4,.85,25.1,.82,25.9,.8,26.3,.55,26.2,.4,24,.52,23.9,.35,14.1,.5,14.7,.78,15.4,.65,17.4,.6,18,.45,17.8,.28,21.1,.65,29.2,1.37,30.4,1.35,31.5,1.37,32.3,1.35,31.5,1.55,30.8,1.2,33.6,1.37,35.4,1.35,36.8,1.42,35.6,1.1,33.9,1,39,1.5,38.9,1.4,39.3,1.32,39,.92,38.9,.8,39.7,1.35,41.2,1.35,42.2,1.35,44.9,1.35,45.9,1.3,48.6,1.35,43.1,.8,44.9,.7,46,.82,46.5,.35,34,.28,29.6,.3,43.8,2.12,46.6,1.7,46.2,1.5,51.3,1.5,51.4,1.8,52.2,1.57,53.4,1.55,54,1.9,59.8,1.33,64.1,1.8,65.1,1.65,67.4,1.85,68.8,1.9,68.8,1.8,68.1,1,66.8,.85,68.3,.8,69.3,.7,64.6,.65,65.8,.65,62.5,.33,64.6,.38,65.6,.38,64.2,.05,65.8,.05,68.1,.42,59.6,.65,59,.6,81.5,1.1,82.3,1.15,82.9,1.2,81.7,.8,84,.85,84,.7,82.7,1.5,83.4,1.45,84,1.93,89.5,1.22];
const bR2High=[-6.2,7,7,5.95,-6.5,4.35,45.5,4.52,41.5,4.3,56.5,4.3,90,4.3,20.2,4.1,36.8,4.1,36.8,4.03,7,3.78,19.5,3.58,46,3.68,47.9,3.5,39,3.32,19.9,3.22,43.6,3.17,47.9,3.13,-3.4,3.07,-3.6,2.9,9.2,3.07,10.1,3.08,45.5,2.86,39.7,2.8,56.5,2.7,10.4,2.66,-7.1,2.62,19.9,2.6,42.2,2.55,39.3,2.55,63,2.53,-7,2.35,31.8,2.3,6.7,2.25,38.9,2.05,61.5,1.85,46.2,1.45,47.9,1.47,47.9,1.27];
const bR2Upper=[41.4,6.55,36.9,5.95,36.9,5.8,36.7,5.65,54.7,4.7,54.7,4.55,54.7,4.3];
const bR2Top=[47.9,5.22];
const bLead=[41.8,6.15];

/* ---------- panel (d) LD points: kb from 170.5 Mb, -log10 P ---------- */
const dR2Low=[-22.4,3.1,-22,3,-22.4,2.47,-20.3,2.68,-20,2.72,-19,3.15,-18.3,3.25,-18.2,3.15,-17.9,3.1,-18.5,2.95,-18.7,2.7,-19.1,2.55,-18.5,2.42,-16.5,2.9,-15.1,2.9,-16.4,2.67,-16.1,2.27,-15.1,2.15,-15.4,2.02,-14.5,1.63,-12.1,1.88,-10.3,1.87,-10.8,3.02,-9.9,3.08,-9.5,2.8,-8.3,2.67,-8.2,2.3,-8.2,2.2,-10,2.2,-6.3,2.95,-5.4,2.9,-6.1,2.8,-6.2,2.6,-5.5,2.5,-5.5,2.3,-21.3,4.25,
-2.1,2.08,-2.1,1.92,1.8,1.95,2.9,1.9,3.2,1.9,5.5,2,6,1.8,5.9,1.75,5.5,1.7,5.3,1.65,1.7,1.7,2.3,1.65,2.7,1.55,3.2,1.4,11.8,2.7,15.1,3.25,16.3,3.3,20,4.1,21,2.07,22.5,1.95,22.5,1.87,13,2.35,14.7,2.42,26.5,3.15,27.4,2.1,41.2,2.85,45.6,2.95,51.3,3.57,54.6,3.58,55.5,3.55,55.6,3.43,55.4,3.13,54.6,2.95,55.8,2.9,59.9,3.37,60.5,3.05,61,2.8,68,3.28,69.1,3.5,69.2,3.5,69.3,3.2,69.4,3.08,76.8,2.7,65,2.47,68.1,2.47,68.9,2.3,60.6,2.45,59,2.33,61,2.25,61.1,2.15,60.3,2.05,60.2,2,71.3,2.37,72.1,2.37,72.6,2.37,72.1,2.07,73.1,2.07,72.5,1.95,73.3,1.9,76,2.1,76,1.8,63,1.9,68.1,1.9,
-22.8,1.2,-22.7,1.05,-22.7,.95,-21.3,.65,-20.5,.87,-21.9,.2,-22.8,.03,-21.2,.03,-18,1.13,-16.9,.6,-16.1,.55,-16.6,.5,-15.5,.5,-15.1,.1,-15.2,.03,-14.4,1,-14.5,.9,-14.2,.77,-14.5,.62,-13.6,.55,-13.4,.42,-14.1,.27,-13.1,1.03,-12.4,1.12,-12.6,.9,-11.8,.7,-11.3,1.25,-10.8,1.35,-10,1.4,-11,.55,-10.2,.58,-10.8,.43,-10,.35,-10.2,.18,-11.8,.18,-11.9,.02,-9.8,1.15,-8.8,1.15,-7.8,1.25,-8.8,.85,-8,.85,-7.2,.9,-6.8,.85,-6.4,1.05,-6,1.2,-6.8,1.45,-5.6,1.38,-5.2,1.3,-4.4,1.18,-4.8,.7,-3.6,.62,-3.8,.48,-4.6,.35,-6,.4,-8.8,.7,-9.2,.3,-8.4,.3,-7.8,.27,-8.3,.12,-7.1,.12,-6,.12,-5,.12,
-2.6,.17,-2.5,.25,-1.9,.85,-1.9,.72,-1.9,.5,-.6,.25,.5,.85,.7,.7,.3,.45,.3,.35,.2,.25,1.3,.2,2.1,.27,-.1,.1,1.3,.1,4.8,.58,6.5,.33,5.1,.15,5.9,.08,8.8,.6,8.6,.5,10,.48,10.1,.3,10.1,.13,9,.08,13.4,.07,14.9,.18,15,.58,15.5,.48,17.9,.58,19,.38,18.4,.27,16.5,.02,4.4,.88,5.1,1.3,5.9,1.35,6.7,.8,6.5,1.05,6.7,1.38,7.1,1.47,9.3,1.12,10,1.05,10.5,1.25,10,1.57,13,1.6,13.8,1.15,14.6,1.42,17.4,1,17.2,1.05,20.9,1.03,22.3,1.03,19.7,1.52,22.3,1.42,22.9,1.5,.3,1.18,1.3,1.22,24.3,.2,24.7,.3,26.3,.7,26.3,.03,26.5,.2,
27.9,1.27,27.8,1,27.9,.95,29.7,1.05,30.5,1,31,1,29.7,.75,28.5,.65,32,.85,33.2,.95,32,.6,33,.55,34.2,.5,35.6,.6,35.2,.45,36.4,.87,37.4,.7,39.9,.6,41,.9,41.8,.9,43.1,1.15,43.3,1,44.7,.7,45.5,.65,46.3,.65,45.8,.9,46.7,1,47.3,1.15,45.5,.5,45.1,.35,46.9,.3,42.2,.45,42.2,.02,27.3,.03,28.1,.05,28.9,.05,29.3,.25,30.1,.4,30.5,.2,31.2,.1,30.8,.05,32,.05,32.8,.03,33.2,.15,34.4,.2,35.2,.07,36,.05,36.8,.1,37.6,.2,38.4,.1,39.8,.25,40,.1,33.2,.3,33.6,.5,29.3,.5,30.1,.15,27.5,.6,28.3,.3,29,.8,31.5,.35,32.4,.25,34,.1,35.8,.25,36.5,.35,37,.5,38.8,.45,39.2,.3,40.6,.75,41.3,1.05,42.6,1.2,43.6,1.05,44.2,.9,32.3,1.18,33.4,1.1,34.1,.75,35,1,
49.5,.02,50.7,.05,51.5,.3,52.3,.15,50.1,.65,50.5,.85,50.9,.9,51.5,.85,49.5,1,52.5,.95,50.5,1.2,50.9,1.25,52.1,1.45,52.3,1.85,53.7,1.85,52.9,2.15,52.8,2.05,55,1.4,56.6,1.35,55,2,55.4,2.1,51.5,.35,52.7,.55,53.9,.55,54.6,.6,55,.45,53.7,.35,56.3,.55,57.3,.55,58.1,.55,56.7,.35,57.5,.3,58.4,.35,59.5,.45,60.8,.55,62,.55,56.2,.1,56.7,.05,58.1,.1,58.4,.05,59.5,.1,61.2,.15,58.3,1.12,59.2,1,59.8,.75,61,1.68,60.8,1.5,61.6,1.25,62,1.05,62.8,1.05,61.6,.95,63.6,1.5,62.4,1.2,64.4,1.05,64,.9,64.7,.7,65.5,.7,63,.1,64,.05,64.7,.02,63.4,.6,64,.55,65.5,.55,64.2,.4,65.3,.45,66.9,1.72,66.3,1.7,66.5,.6,67.5,.6,
68.5,.6,69.3,.8,70.1,.85,71.1,.8,72.5,.9,73.7,.85,74.5,.7,75.7,.7,76.2,.8,76.8,.82,70.1,.55,71.3,.6,72.1,.6,72.7,.6,74.1,.6,75.1,.62,76.4,.65,70.1,.4,70.9,.45,72.1,.3,72.9,.3,74.3,.45,75.3,.4,76.7,.35,69.7,.15,70.1,.05,72.9,.1,75.3,.05,76.9,.15,76.4,.2,68.3,1.22,70.1,1.15,73.3,1.2,72.9,1.65,69.7,1.55,74.4,1.53,76,1.55,76.4,1.45,77,1.43,76.6,1.3,76.6,1.15,48.5,.6,48.9,.35,54.2,.35,66.8,.35,67.4,.25,68.8,.4,69.2,.3,69.5,.5];
const dR2Mid=[18.7,5.02,23.2,4.72,18.1,4.47,-5.5,4.35,49.4,4.4,17.5,3.98,16.9,3.85,22.1,3.8,26.7,3.68,45.1,3.4,11.3,3.03,-5.4,3.08,35,3.03,32,2.95,26.9,2.93,16,2.92,15.8,2.92,17.4,2.87,52.1,2.85,44.7,2.82,19.6,2.8,53.5,2.77,26.5,2.78,26.7,2.7,27.3,2.72,27.4,2.47,43.1,2.73,33.3,2.7,19,2.7,8.8,2.63,7.9,2.72,22.6,2.6,16.6,2.52,18.8,2.52,19.7,2.53,22.9,2.35,17,2.43,-10.5,2.33,11,2.38,11.7,2.38,12.2,2.32,12.6,2.28,13.2,2.35,-18.9,2.28,1.3,2.3,33.7,2.3,35.8,2.32,37.7,2.3,53.4,2.3,56.8,2.37,30.7,2.2,31.2,2.25,19.2,2.18,18.2,2.1,12.2,2.03,31.6,2,33.7,2.05,35.3,2.05,36.6,2.05,68.8,2.15,43.1,1.92,43.5,1.92,18.2,1.87,37,1.95,38.5,1.9,37.6,1.85,10.5,1.82,6.7,1.85,14.6,1.85,29.1,1.8,56,1.8,49.7,1.8,47.3,1.65,53.8,1.65,53.2,1.7,36,1.75,36.4,1.65,37.8,1.75,38.4,1.7,38.8,1.6,39.3,1.6,-1.7,1.75,-1.4,1.68,-1,1.58,2.6,1.55,18.7,1.55,12.1,1.5,13.4,1.5,23.2,1.43,28.1,1.5,29.7,1.5,31,1.5,32.6,1.55,32,1.33,32.8,1.3,33.6,1.35,35.2,1.35,35.6,1.3,36.8,1.45,37.2,1.25,63.4,1.4,46.9,1.38,45.4,1.3,50.9,1.4,56.4,1.25,41.9,1.3,41.8,1.15,41.6,1.05,-10.2,1.25,2.1,1.32,3.5,1.3,5.1,1.12,17.2,1.2,-20.3,1.2,-19.7,1.05,-22.8,1.05,-15.1,.97,-10.6,1,-9.9,1,5.9,.95,9.4,.85,28.3,.87,34.8,.87,38.4,1.1,39.2,1.15,38.6,.98,40.1,.8,38,.8,40.4,.6,39.4,.62,37.4,.62,34.8,.5,43.5,.87,43.9,.62,43.7,.5,45.4,.47,49.2,.5,50.1,.55,51.1,.68,53.7,1.05,54.6,.85,53.7,.35,66.3,1.3,66.7,.9,59,.4,65.7,.2,71,.15,26.9,.4,27,.28,18.3,.03,-20,.25,-8.6,.47,-6.7,.57,-17.7,.65,39.4,.03];
const dR2High=[22.1,4.9,52.3,4.72,31.4,4.2,6.1,3.95,16.3,3.72,20.6,3.72,21.6,3.55,13.1,3.6,35.8,3.62,37,3.63,37,3.55,42.6,3.2,43.5,3.2,46.3,3.2,47.1,3.2,48,3.25,47.5,3.05,47.9,3,48.9,2.95,47.7,2.88,47.7,2.78,52.1,3.12,52.1,2.97,13.4,3.08,23.7,2.97,23.3,2.75,33,2.93,6.1,2.87,7.2,2.83,62.2,2.8,49.9,2.68,48.7,2.55,47.9,2.45,47.7,2.35,49.1,2.37,13,2.47,13.2,2.35,6.6,2.45,6.5,2.28,7.5,2.23,-15.1,2.47,-10.6,2.53,32.3,2.17,42.9,2.35,52.3,2.3,12.4,2.18,12.4,1.95,41.6,1.97,14,1.82,27.3,1.78,50.4,1.65,-21.9,1.58,7.7,1.47,42.5,1.5,43.3,1.43,-17.4,.82,-16.3,.72,-17.8,.3,42.3,.38,64,.8];
const dR2Upper=[47.7,4.3,12.4,3.72,16.8,3.55,45.8,3.63,14,2.73,-10,2.55,51.5,2.63,51.6,2.57,45.7,1.97,-13.7,1.62];
const dR2Top=[21.2,3.17];
const dLead=[26.8,5.92];

/* ---------- axes ---------- */
const bYTicks=[0,1,2,3,4,5,6,7];
const dYTicks=[0,1,2,3,4,5,6];
const bXTicks=[170.6,170.62,170.64,170.66,170.68];
const bXLabels=['170.6','170.62','170.64','170.66','170.68'];
const dXTicks=[170.48,170.5,170.52,170.54,170.56,170.58];
const dXLabels=['170.48','170.5','170.52','170.54','170.56','170.58'];
const r2Labels=['0.8−1.0','0.6−0.8','0.4−0.6','0.2−0.4','0.0−0.2'];
const r2Fill=['#ff1414','#ffa51e','#1ec81e','#1ee6e6','#1e6ee6'];

/* ---------- genes: exon start/end kb ---------- */
const kpna3Span=[-2.9,50.1];
const kpna3Exons=[-2.9,-.2,1.2,1.4,4.2,4.8,6.5,6.7,7.9,8.1,11.1,11.3,11.8,12,12.4,12.6,15,15.2,17.6,17.9,18,18.2,31.6,31.8,50,50.2];
const ensgSpan=[50.9,65.8];
const ensgExons=[50.9,51.5,53,53.2,60.4,60.6,64.6,65.1,65.5,65.8];
const spryd7Span=[70.9,85.6];
const spryd7Exons=[70.8,71,74.7,76,78.9,79.1,80.7,80.9,82.8,83,83.6,83.8,85.5,85.7];
const cab39lSpan=[-27.8,26.7];
const cab39lExons=[-25.4,-25.2,-24.8,-24.6,-23.1,-22.9,-19,-18.8,-13,-12.8,-8.2,-8,1.6,1.8,8.5,8.7,9.7,9.9,10.2,10.4,10.6,10.8,24.5,24.7,26.6,26.8];
const setdb2Span=[26.9,45.7];
const setdb2Exons=[26.8,27,27.2,27.4,27.7,27.9,30.4,30.6,31.5,31.7,33.3,33.9,35.4,35.6,36.5,36.7,38,38.2,39.6,40.9,41.5,41.7,43,43.2,44.6,44.8,45,45.7];
const phf11Span=[52.3,65.5];
const phf11Exons=[52.2,52.4,52.7,52.9,53.3,53.5,54.1,54.3,56.3,56.5,58.5,58.7,59.9,60.1,60.6,60.8,61.7,61.9,62.6,62.8,63.9,65,65.1,65.3,65.4,65.6];
const rcbtb1Span=[65.7,78.6];
const rcbtb1Exons=[65.7,66.5,69.6,69.8,70.6,70.8,73.4,73.6,76.6,76.8,77.3,77.5,78.5,78.7];

/* ---------- panel (c) jitter %, weight g ---------- */
const cAA=[-8,2620,3,2566,-20,2474,-6,2444,10,2474,-1,2386,9,2338,-9,2360,-13,2330,-17,2290,0,2300,-5,2250,7,2254,-16,2220,14,2210,-20,2174,-10,2200,-2,2180,5,2190,10,2170,-14,2150,-7,2140,2,2140,12,2120,-19,2110,-11,2090,-3,2100,6,2100,15,2080,-21,2060,-15,2040,-8,2050,1,2060,9,2040,16,2000,-18,2000,-12,1980,-4,2010,4,2000,12,1990,20,1960,-22,1950,-16,1940,-9,1950,-1,1960,7,1950,14,1930,20,1900,-20,1900,-13,1890,-6,1900,2,1900,10,1890,17,1870,-22,1850,-15,1840,-8,1850,0,1850,8,1840,15,1820,21,1830,-20,1800,-12,1790,-4,1790,4,1790,12,1780,19,1770,-22,1750,-15,1740,-8,1740,0,1740,7,1730,14,1720,20,1720,-20,1690,-12,1680,-5,1690,3,1680,10,1670,17,1660,-18,1640,-10,1620,-2,1630,6,1620,13,1610,19,1640,-20,1590,-13,1580,-6,1570,1,1570,9,1570,16,1560,-18,1530,-11,1510,-3,1520,5,1510,12,1500,19,1550,-20,1480,-13,1460,-6,1470,2,1450,9,1450,-16,1430,-8,1420,0,1410,6,1400,-20,1390,-11,1390,13,1390,0,1394,-1,1336,14,1330,18,1336,-20,1286,-16,1270,-13,1286,-6,1286,-16,1240,-19,1180,7,1200,-9,1146,-9,1080,3,1034];
const cAAExtra=[-11,2170,-3,2155,8,2145,-16,2080,-6,2075,3,2080,11,2065,-20,2030,-11,2025,-1,2030,6,2025,13,2020,-16,1970,-8,1975,1,1975,9,1965,16,1960,-19,1925,-11,1920,-3,1925,5,1920,12,1905,-17,1870,-10,1870,-2,1875,5,1865,12,1860,19,1850,-18,1825,-10,1820,-2,1820,6,1815,13,1800,-17,1770,-9,1765,-1,1765,7,1760,16,1745,-18,1720,-11,1710,-3,1715,4,1705,11,1700,-16,1665,-8,1655,0,1655,8,1645,15,1635,-15,1610,-6,1600,3,1595,11,1590,-16,1555,-8,1545,1,1540,8,1535,-15,1500,-8,1490,-1,1490,7,1480,-4,1440,-13,1415];
const cAG=[8,2680,-19,2500,4,2510,11,2550,17,2550,19,2530,16,2500,18,2470,0,2470,-16,2440,-8,2440,-3,2420,5,2440,12,2430,19,2420,-17,2390,-10,2400,-2,2400,7,2410,15,2400,-18,2350,-9,2360,-1,2360,5,2370,13,2360,19,2340,-15,2310,-6,2320,2,2320,10,2320,17,2310,-21,2260,-14,2270,-7,2280,0,2290,8,2280,15,2270,21,2250,-20,2220,-12,2230,-3,2240,4,2230,11,2230,19,2210,-17,2180,-9,2190,-1,2190,6,2180,14,2190,21,2170,-16,2130,-8,2140,0,2140,8,2130,16,2130,21,2120,-21,2090,-14,2090,-6,2090,2,2100,9,2090,17,2090,-20,2050,-12,2050,-4,2050,4,2060,12,2050,20,2040,-22,2010,-15,2010,-7,2010,1,2010,9,2010,17,2000,-18,1970,-10,1970,-2,1970,6,1970,14,1970,21,1960,-21,1930,-13,1930,-5,1930,3,1930,11,1930,19,1930,-17,1890,-9,1890,-1,1890,7,1890,15,1890,22,1880,-21,1850,-13,1850,-5,1850,3,1850,11,1850,19,1850,-17,1810,-9,1810,-1,1810,7,1810,15,1810,22,1810,-21,1770,-13,1770,-5,1770,3,1770,11,1770,19,1770,-17,1730,-9,1730,-1,1730,7,1730,15,1730,22,1730,-21,1690,-13,1690,-5,1690,3,1690,11,1690,19,1690,-17,1650,-9,1650,-1,1650,7,1650,15,1650,21,1640,-19,1610,-11,1610,-3,1610,5,1610,13,1610,20,1600,-15,1570,-6,1570,2,1570,10,1570,18,1560,-20,1530,-12,1530,-4,1530,5,1530,14,1520,20,1490,-15,1490,-6,1490,3,1480,12,1480,-17,1440,-8,1440,0,1430,8,1430,16,1440,-21,1390,-11,1400,-2,1390,6,1380,14,1400,-6,1340,4,1350,13,1340,-18,1290,-10,1280,0,1310,8,1320,19,1290,-12,1240,-5,1240,1,1260,13,1240,17,1220,-6,1190,-8,1130,-9,1060];
const cAGExtra=[-12,2115,-4,2115,5,2110,13,2110,-17,2070,-9,2070,-1,2075,8,2070,16,2070,-18,2030,-10,2030,-2,2030,6,2035,14,2030,-14,1990,-6,1990,2,1990,10,1990,18,1985,-17,1950,-9,1950,-1,1950,7,1950,15,1950,-13,1910,-5,1910,3,1910,11,1910,19,1910,-17,1870,-9,1870,-1,1870,7,1870,15,1870,-13,1830,-5,1830,3,1830,11,1830,19,1830,-17,1790,-9,1790,-1,1790,7,1790,15,1790,-13,1750,-5,1750,3,1750,11,1750,19,1750,-17,1710,-9,1710,-1,1710,7,1710,15,1710,-13,1670,-5,1670,3,1670,11,1670,19,1670,-15,1630,-7,1630,1,1630,9,1630,17,1630,-16,1590,-8,1590,0,1590,8,1590,15,1590,-16,1550,-8,1550,1,1550,9,1550,16,1545,-11,1510,-2,1510,8,1510,17,1505,-12,1465,-3,1460,7,1460,15,1470,-16,1415,-6,1410,4,1410,10,1405,-15,2205,-6,2215,3,2210,12,2205,-13,2160,-4,2165,5,2155,12,2160,18,2150];
const cGG=[4,2990,11,2830,-9,2770,-13,2730,2,2640,-23,2610,-17,2580,10,2520,-5,2510,-21,2510,-4,2470,10,2470,-14,2440,-1,2420,8,2430,-15,2400,3,2400,11,2390,-8,2360,-2,2350,5,2340,-18,2310,-11,2310,-1,2320,8,2310,14,2320,-22,2280,-15,2280,-6,2280,3,2280,12,2270,18,2260,-21,2240,-13,2230,-5,2230,4,2240,10,2230,17,2220,-19,2190,-10,2190,-1,2190,7,2190,19,2180,-21,2140,-12,2150,-4,2140,4,2150,12,2140,18,2140,-19,2100,-10,2100,-2,2110,6,2100,14,2100,20,2100,-18,2060,-8,2060,0,2060,8,2060,16,2060,21,2050,-20,2020,-12,2020,-4,2020,4,2020,12,2020,19,2020,-16,1980,-8,1980,0,1980,8,1980,16,1980,-21,1950,-12,1940,-4,1940,4,1940,12,1940,19,1940,-17,1900,-9,1900,-1,1900,7,1900,15,1900,-21,1860,-13,1860,-5,1860,3,1860,11,1860,18,1860,-20,1820,-11,1820,-2,1820,6,1820,14,1820,-17,1780,-9,1780,-1,1780,7,1780,15,1780,-20,1740,-12,1740,-3,1740,5,1740,13,1740,-17,1700,-8,1700,0,1700,8,1700,17,1700,-18,1660,-11,1650,-3,1650,5,1660,12,1650,-14,1610,-5,1610,3,1610,11,1620,-15,1570,-7,1570,2,1570,13,1570,-20,1510,-11,1490,-4,1500,1,1530,11,1510,-15,1470,-7,1470,14,1390,18,1400,-17,1380,-17,1310,12,1230,-12,1230,-6,1330,-14,1240,-1,1260,3,1270,10,1250];
const cGGExtra=[-15,2170,-6,2170,2,2170,11,2165,16,2175,-14,2125,-6,2125,0,2125,8,2125,15,2120,-14,2080,-5,2080,2,2085,10,2080,18,2080,-15,2040,-8,2040,0,2040,8,2040,16,2040,-17,2000,-4,2000,4,2000,12,2000,20,1995,-12,1960,-4,1960,4,1960,12,1960,-17,1920,-5,1920,3,1920,11,1920,19,1915,-17,1880,-9,1880,-1,1880,7,1880,15,1880,-16,1840,-7,1840,2,1840,10,1840,18,1835,-13,1800,-5,1800,3,1800,11,1800,-16,1760,-8,1760,1,1760,9,1760,17,1755,-13,1720,-4,1720,4,1720,12,1720,-14,1680,-4,1680,4,1680,13,1675,-9,1630,-1,1630,7,1635,15,1625,-11,1590,-2,1590,6,1590,-14,2210,-2,2215,7,2210,14,2205,-16,2260,-2,2255,7,2250];

/* ---------- panel (e) jitter %, weight g ---------- */
const eGG=[-7,1560,3,1560,-15,1530,-1,1530,10,1520,16,1510,-21,1490,-5,1480,1,1480,18,1480,-16,1470,12,1450,-17,1430,13,1440,-20,1390,-12,1400,0,1400,11,1400,18,1400,-16,1370,-6,1360,1,1340,8,1350,16,1350,22,1340,-21,1320,-14,1320,-7,1310,0,1320,8,1310,15,1310,22,1300,-19,1280,-11,1280,-3,1280,5,1270,13,1270,20,1270,-16,1240,-8,1240,0,1240,8,1240,16,1230,21,1230,-21,1200,-13,1200,-5,1200,3,1200,11,1200,19,1200,-18,1170,-10,1170,-2,1170,6,1170,14,1170,21,1170,-22,1140,-14,1140,-6,1140,2,1140,10,1140,18,1140,-19,1110,-11,1110,-3,1110,5,1110,13,1110,21,1110,-21,1080,-13,1080,-5,1080,3,1080,11,1080,19,1080,-18,1050,-10,1050,-2,1050,6,1050,14,1050,21,1050,-22,1020,-14,1020,-6,1020,2,1020,10,1020,18,1020,-19,990,-11,990,-3,990,5,990,13,990,20,990,-21,960,-13,960,-5,960,3,960,11,960,18,960,-18,930,-10,930,-2,930,6,930,14,930,20,930,-20,900,-12,900,-4,900,4,900,12,900,18,900,-17,870,-9,870,-1,870,7,870,15,870,20,870,-18,840,-8,840,2,840,13,840,19,840,-10,790,-3,790,0,770,-11,740,-15,720,-17,720,2,710,11,720,17,715,3,700,-16,590,1,530];
const eGGExtra=[-12,1335,-3,1330,4,1330,12,1330,19,1325,-17,1300,-10,1298,-3,1300,4,1295,11,1290,18,1285,-15,1260,-7,1260,1,1258,9,1255,17,1250,-18,1220,-11,1222,-3,1220,4,1222,12,1215,19,1215,-15,1185,-7,1185,1,1185,9,1185,17,1185,-18,1155,-10,1155,-2,1155,6,1155,14,1155,-16,1125,-8,1125,0,1125,8,1125,16,1125,-17,1095,-9,1095,-1,1095,7,1095,15,1095,-16,1065,-8,1065,0,1065,8,1065,16,1065,-18,1035,-10,1035,-2,1035,6,1035,14,1035,-16,1005,-8,1005,0,1005,8,1005,16,1005,-17,975,-9,975,-1,975,7,975,15,975,-15,945,-7,945,1,945,9,945,17,945,-16,915,-8,915,0,915,8,915,15,915,-13,885,-5,885,3,885,11,885,17,885,-12,855,-4,855,5,855,13,855,-13,1420,14,1415,20,1380,-11,1365,-3,1375,-2,1450,15,1470];
const eTG=[-17,1655,-4,1660,-14,1600,-10,1610,-5,1600,13,1620,17,1625,11,1600,-19,1570,-16,1540,-21,1545,-1,1540,4,1530,14,1530,3,1500,11,1490,18,1500,-5,1480,-18,1480,7,1470,16,1450,-20,1440,-14,1440,-7,1440,1,1440,7,1450,-22,1400,-15,1400,-8,1410,0,1410,8,1410,18,1410,-21,1370,-12,1370,-4,1370,4,1370,12,1370,19,1350,-18,1330,-10,1330,-2,1330,6,1330,14,1330,-20,1290,-11,1290,-3,1290,5,1290,13,1290,20,1290,-17,1250,-9,1250,-1,1250,7,1250,15,1250,-20,1210,-12,1210,-4,1210,4,1210,12,1210,20,1210,-16,1170,-8,1170,0,1170,8,1170,16,1170,-20,1130,-12,1130,-4,1130,4,1130,12,1130,20,1130,-18,1090,-10,1090,-2,1090,6,1090,14,1090,-20,1050,-12,1050,-4,1050,4,1050,12,1050,19,1050,-16,1010,-8,1010,0,1010,8,1010,16,1010,-20,970,-12,970,-4,970,4,970,12,970,18,970,-16,930,-6,930,0,930,7,920,16,890,-20,890,-2,880,6,900,-18,850,-10,860,-3,850,6,850,13,870,-16,800,-12,790,8,800,14,790,16,790,-13,760,7,760,-12,740,11,710,-9,690,18,660,-9,640];
const eTGExtra=[-13,1420,-3,1425,4,1390,13,1395,-16,1350,-8,1350,0,1350,8,1350,15,1350,-14,1310,-6,1310,2,1310,10,1310,18,1310,-15,1270,-5,1270,3,1270,11,1270,19,1270,-13,1230,-5,1230,3,1230,11,1230,18,1230,-18,1190,-8,1190,0,1190,8,1190,16,1190,-14,1150,-6,1150,2,1150,10,1150,18,1150,-16,1110,-8,1110,0,1110,8,1110,16,1110,-14,1070,-6,1070,2,1070,10,1070,18,1070,-16,1030,-8,1030,0,1030,8,1030,16,1030,-14,990,-6,990,2,990,10,990,18,990,-16,950,-8,950,0,950,8,950,15,950,-10,910,-2,905,11,910,-6,880,3,870,11,850];
const eTT=[12,1790,-17,1620,8,1620,-2,1600,1,1560,-6,1540,-13,1500,-4,1470,18,1480,-13,1440,-10,1440,1,1430,11,1420,2,1410,19,1400,-19,1360,-10,1370,-6,1380,-3,1350,3,1360,-3,1340,1,1340,9,1330,-13,1300,-10,1290,-8,1280,-5,1290,3,1250,-5,1230,8,1260,-13,1230,8,1230,-5,1200,3,1200,6,1190,-5,1180,-13,1170,2,1160,6,1170,17,1170,4,1150,-12,1110,-9,1090,12,1100,6,1070,10,1070,13,1070,-9,1040,-5,1040,3,1050,-18,1020,7,1000,3,970,-17,930,-17,860,13,850];

const cAAStats={low:1030,q1:1620,med:1826,q3:2040,high:2620};
const cAGStats={low:1145,q1:1690,med:1862,q3:2080,high:2550};
const cGGStats={low:1260,q1:1775,med:1955,q3:2135,high:2640};
const eGGStats={low:714,q1:1005,med:1133,q3:1239,high:1559};
const eTGStats={low:657,q1:1026,med:1165,q3:1312,high:1655};
const eTTStats={low:849,q1:1129,med:1270,q3:1411,high:1790};
const cYTicks=[1000,2000,3000];
const eYTicks=[500,1000,1500,2000];

/* ---------- helpers ---------- */
const NS='http://www.w3.org/2000/svg';
const svg=document.getElementById('chart');
function mk(tag,attrs,parent){
  const e=document.createElementNS(NS,tag);
  for(const k in attrs)e.setAttribute(k,attrs[k]);
  (parent||svg).appendChild(e);
  return e;
}
const xB=kb=>441+kb*19.765;
const xD=kb=>767+kb*19.3;
const yB=p=>1277.6-p*103.5;
const yD=p=>3082-p*120.9;

/* panel a */
const barG=mk('g',{});


stateNames.forEach((n,i)=>{
  const r=mk('rect',{x:104+i*208.3,y:144,width:208.8,height:96,fill:stateFill[i]},barG);
  
  
  const t=mk('text',{x:104+i*208.3+97,y:203,'text-anchor':'middle','font-size':38,'font-weight':'bold',fill:i===0?'#fff':'#000'},barG);
  t.textContent=n;
  
  
});

/* tracks */
function drawTracks(panel,tracks,xf,y0,dy,labelRight,clipX){
  const g=mk('g',{});
  
  
  tracks.forEach((arr,i)=>{
    const cy=y0+i*dy;
    for(let j=0;j<arr.length;j+=3){
      const x0=xf(arr[j]),x1=xf(arr[j+1]);
      const r=mk('rect',{x:x0,y:cy-12,width:Math.max(x1-x0,4),height:24,fill:trackFill[arr[j+2]]},g);
      
      
    }
    const t=mk('text',{x:labelRight,y:cy+9,'text-anchor':'end','font-size':29},g);
    t.textContent=tissues[i];
    
    
  });
  const ln=mk('line',{x1:clipX,x2:clipX,y1:y0-14,y2:y0+22*dy+14,stroke:'#ffb0b0','stroke-width':2},g);
  
  
}
drawTracks('b',tracksB,xB,1339,26.25,194,206);
drawTracks('d',tracksD,xD,3147,25.97,217,226);

/* mask clipped Hypothalamus initial in panel b */
const hMask=mk('rect',{x:0,y:1350,width:36,height:40,fill:'#fff'});



/* LD scatter */
function drawPoints(arr,fill,xf,yf,name){
  const g=mk('g',{});
  
  
  for(let i=0;i<arr.length;i+=2){
    const c=mk('circle',{cx:xf(arr[i]),cy:yf(arr[i+1]),r:12,fill:fill,stroke:'#000','stroke-width':4.5},g);
    
    
  }
}
function drawLD(panel,xf,yf,sets,lead,leadBottom){
  const dash=mk('line',{x1:xf(lead[0]),x2:xf(lead[0]),y1:yf(lead[1]),y2:leadBottom,stroke:'#000','stroke-width':3.5,'stroke-dasharray':'9 6'});
  
  
  const names=['r2-0-0.2','r2-0.2-0.4','r2-0.4-0.6','r2-0.6-0.8','r2-0.8-1.0'];
  sets.forEach((s,i)=>drawPoints(s,r2Fill[4-i],xf,yf,'snp-series-'+panel+'-'+names[i]));
  const cx=xf(lead[0]),cy=yf(lead[1]);
  const di=mk('polygon',{points:`${cx},${cy-18} ${cx+13},${cy} ${cx},${cy+18} ${cx-13},${cy}`,fill:'#d925e8',stroke:'#000','stroke-width':4});
  
  
}
drawLD('b',xB,yB,[bR2Low,bR2Mid,bR2High,bR2Upper,bR2Top],bLead,1930);
drawLD('d',xD,yD,[dR2Low,dR2Mid,dR2High,dR2Upper,dR2Top],dLead,3735);

/* LD axes */
function drawYAxis(panel,ticks,yf,axisX,top,bottom,right){
  const g=mk('g',{});
  
  
  const a=mk('line',{x1:axisX,x2:axisX,y1:top,y2:bottom,stroke:'#000','stroke-width':4},g);
  
  
  const b=mk('line',{x1:axisX-2,x2:right,y1:bottom,y2:bottom,stroke:'#111','stroke-width':6},g);
  
  
  ticks.forEach(v=>{
    const tk=mk('line',{x1:axisX-20,x2:axisX,y1:yf(v),y2:yf(v),stroke:'#000','stroke-width':3.5},g);
    
    
    const t=mk('text',{x:axisX-32,y:yf(v)+17,'text-anchor':'end','font-size':50},g);
    t.textContent=v;
    
    
  });
}
drawYAxis('b',bYTicks,yB,207,522,1306,2331);
drawYAxis('d',dYTicks,yD,222,2335,3111,2319);

/* r2 legends */
function drawLegend(panel,ys){
  const g=mk('g',{});
  
  
  r2Labels.forEach((lab,i)=>{
    const c=mk('circle',{cx:1967,cy:ys[i],r:9.5,fill:r2Fill[i],stroke:'#222','stroke-width':2},g);
    
    
    const t=mk('text',{x:1990,y:ys[i]+15,'font-size':46,fill:'#222'},g);
    t.textContent=lab;
    
    
  });
}
const legendRowsB=[475,519,564,607,651];
const legendRowsD=[2314,2358,2402,2445,2490];
drawLegend('b',legendRowsB);
drawLegend('d',legendRowsD);

/* genes */
function drawGene(name,span,exons,xf,cy,half){
  const g=mk('g',{});
  
  
  const l=mk('rect',{x:xf(span[0]),y:cy-4,width:xf(span[1])-xf(span[0]),height:8,fill:'#00008f'},g);
  
  
  for(let i=0;i<exons.length;i+=2){
    const x0=xf(exons[i]),x1=xf(exons[i+1]);
    const e=mk('rect',{x:x0,y:cy-half,width:Math.max(x1-x0,3.5),height:half*2,fill:'#00008f'},g);
    
    
  }
}
drawGene('kpna3',kpna3Span,kpna3Exons,xB,2050,28);
drawGene('ensgalg00000053103',ensgSpan,ensgExons,xB,2050,28);
drawGene('spryd7',spryd7Span,spryd7Exons,xB,2050,28);
drawGene('cab39l',cab39lSpan,cab39lExons,xD,3828,27);
drawGene('setdb2',setdb2Span,setdb2Exons,xD,3890,27);
drawGene('phf11',phf11Span,phf11Exons,xD,3825,27);
drawGene('rcbtb1',rcbtb1Span,rcbtb1Exons,xD,3890,27);

/* genome axes */
function drawXAxis(panel,ticks,labels,baseMb,xf,y,x0,x1,labelY){
  const g=mk('g',{});
  
  
  const a=mk('line',{x1:x0,x2:x1,y1:y,y2:y,stroke:'#111','stroke-width':6},g);
  
  
  ticks.forEach((v,i)=>{
    const px=xf((v-baseMb)*1000);
    const tk=mk('line',{x1:px,x2:px,y1:y,y2:y+21,stroke:'#000','stroke-width':3.5},g);
    
    
    const t=mk('text',{x:px+6,y:labelY,'text-anchor':'middle','font-size':53},g);
    t.textContent=labels[i];
    
    
  });
}
drawXAxis('b',bXTicks,bXLabels,170.6,xB,2116,204,2342,2188);
drawXAxis('d',dXTicks,dXLabels,170.5,xD,3953,230,2311,4027);

/* boxplots */
const dotR=8.5;
function drawBoxPanel(p){
  const g=mk('g',{});
  
  
  const fr=mk('rect',{x:p.left,y:p.top,width:p.right-p.left,height:p.bottom-p.top,fill:'none',stroke:'#111','stroke-width':5},g);
  
  
  p.yTicks.forEach(v=>{
    const tk=mk('line',{x1:p.left-10,x2:p.left,y1:p.y(v),y2:p.y(v),stroke:'#333','stroke-width':3},g);
    
    
    const t=mk('text',{x:p.left-19,y:p.y(v)+14,'text-anchor':'end','font-size':42,fill:'#3a2f2f'},g);
    t.textContent=v;
    
    
  });
  p.groups.forEach((gp,i)=>{
    const cx=p.cats[i];
    const w=67;
    const st=gp.stats;
    const wh=mk('line',{x1:cx,x2:cx,y1:p.y(st.high),y2:p.y(st.low),stroke:gp.line,'stroke-width':p.lw},g);
    
    
    const bx=mk('rect',{x:cx-w,y:p.y(st.q3),width:w*2,height:p.y(st.q1)-p.y(st.q3),fill:'none',stroke:gp.line,'stroke-width':p.lw},g);
    
    
    const md=mk('line',{x1:cx-w,x2:cx+w,y1:p.y(st.med),y2:p.y(st.med),stroke:gp.line,'stroke-width':p.lw},g);
    
    
    for(let j=0;j<gp.pts.length;j+=2){
      const c=mk('circle',{cx:cx+gp.pts[j]/100*p.spacing,cy:p.y(gp.pts[j+1]),r:dotR,fill:gp.color},g);
      
      
    }
    const tk=mk('line',{x1:cx,x2:cx,y1:p.bottom,y2:p.bottom+11,stroke:'#333','stroke-width':3},g);
    
    
    const t=mk('text',{transform:`translate(${p.labelX[i]},${p.labelY}) rotate(-20)`,'text-anchor':'middle','font-size':42,fill:'#333'},g);
    t.textContent=gp.name;
    
    
  });
  p.brackets.forEach(b=>{
    const xa=p.cats[b.from],xb=p.cats[b.to],yy=p.y(b.val),dp=p.drop;
    const pl=mk('polyline',{points:`${xa},${yy+dp} ${xa},${yy} ${xb},${yy} ${xb},${yy+dp}`,fill:'none',stroke:'#555','stroke-width':3.5},g);
    
    
    const t=mk('text',{x:(xa+xb)/2,y:yy-24,'text-anchor':'middle','font-size':44,fill:'#444'},g);
    t.textContent=b.stars;
    
    
  });
}
const cBrackets=[{from:0,to:2,val:3379,stars:'****'},{from:1,to:2,val:3143,stars:'***'},{from:0,to:1,val:2910,stars:'*'}];
const eBrackets=[{from:1,to:2,val:2097,stars:'***'},{from:0,to:2,val:1944,stars:'****'},{from:0,to:1,val:1793,stars:'***'}];
drawBoxPanel({id:'c',left:2613,right:3220,top:402,bottom:1821,y:v=>1773-(v-1000)*.5105,yTicks:cYTicks,cats:[2727,2916,3106],spacing:189.5,lw:3,drop:30,labelX:[2720,2905,3088],labelY:1878,brackets:cBrackets,
 groups:[{name:'AA',pts:cAA.concat(cAAExtra),stats:cAAStats,color:'#bdbec0',line:'#d8d8da'},{name:'AG',pts:cAG.concat(cAGExtra),stats:cAGStats,color:'#00c4ea',line:'#80d8f0'},{name:'GG',pts:cGG.concat(cGGExtra),stats:cGGStats,color:'#0070b8',line:'#2e90cc'}]});
drawBoxPanel({id:'e',left:2611,right:3219,top:2316,bottom:3735,y:v=>3298-(v-1000)*.7877,yTicks:eYTicks,cats:[2724,2914,3104],spacing:190,lw:5.5,drop:30,labelX:[2729,2920,3110],labelY:3790,brackets:eBrackets,
 groups:[{name:'GG',pts:eGG.concat(eGGExtra),stats:eGGStats,color:'#bdbec0',line:'#c4c4c6'},{name:'TG',pts:eTG.concat(eTGExtra),stats:eTGStats,color:'#00c4ea',line:'#12c4ea'},{name:'TT',pts:eTT,stats:eTTStats,color:'#0073ba',line:'#0a84c6'}]});
</script>
</body>
</html>
